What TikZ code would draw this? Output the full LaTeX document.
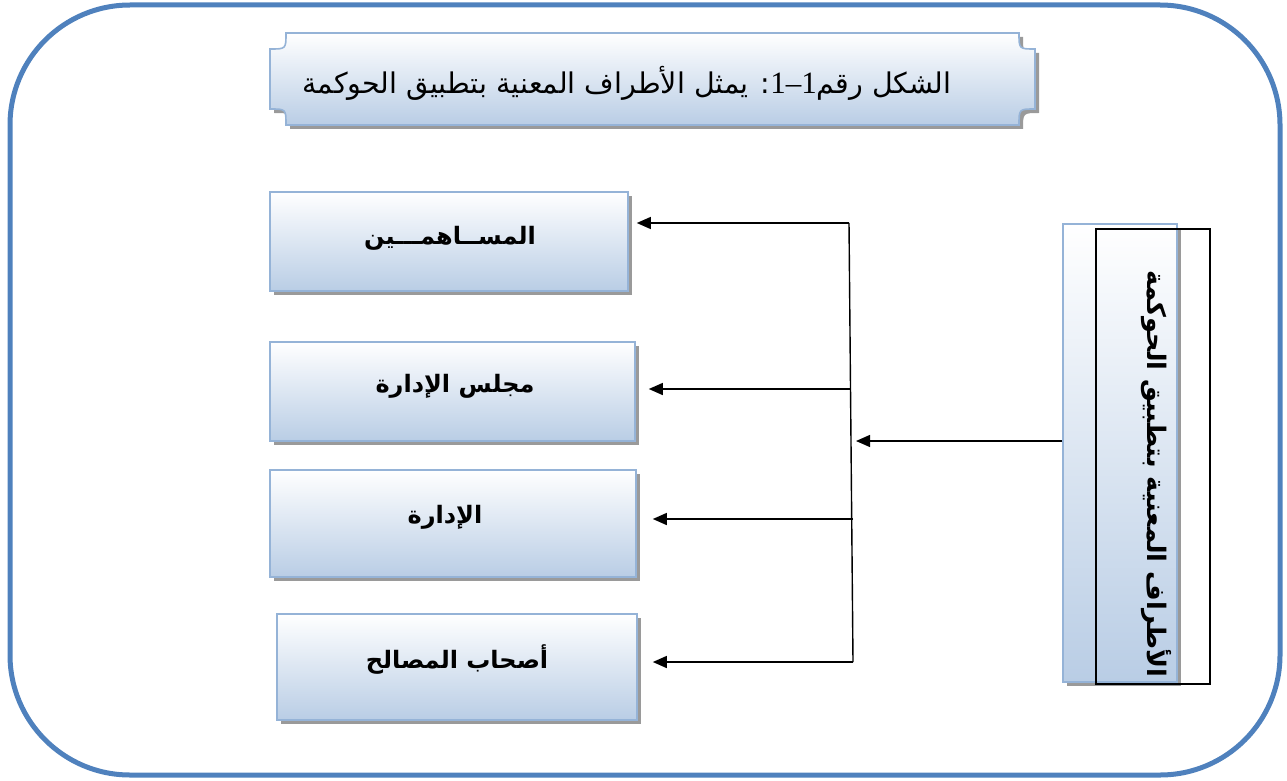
\documentclass[tikz,border=0pt]{standalone}
\usepackage{fontspec}
\newfontfamily\arabicfont[Script=Arabic]{DejaVu Sans}
\newfontfamily\latinserif{Liberation Serif}
\TeXXeTstate=1
\usetikzlibrary{arrows.meta,shadows}
\definecolor{frameblue}{HTML}{4F81BD}
\definecolor{boxborder}{HTML}{95B3D7}
\definecolor{boxbottom}{HTML}{B9CDE5}
\definecolor{shadowgray}{HTML}{9A9A9A}
\begin{document}
\begin{tikzpicture}[x=1pt,y=-1pt,
  entity/.style={draw=boxborder, line width=1.6pt, top color=white, bottom color=boxbottom,
    drop shadow={shadow xshift=4pt,shadow yshift=-4pt,fill=shadowgray,opacity=1},
    inner sep=0pt},
  label/.style={font=\arabicfont\bfseries\fontsize{24}{28}\selectfont, inner sep=0pt},
  arr/.style={line width=1.4pt, -{Triangle[length=14pt,width=12pt]}},
  bus/.style={line width=1.4pt}]
\useasboundingbox (0,0) rectangle (1287,781);
% outer frame
\draw[frameblue, line width=5pt, rounded corners=120pt] (10,5) rectangle (1280,775);
% title plaque
\fill[shadowgray] (290,37) -- (1023,37) .. controls (1023,53) .. (1039,53) -- (1039,113) .. controls (1023,113) .. (1023,129) -- (290,129) .. controls (290,113) .. (274,113) -- (274,53) .. controls (290,53) .. (290,37) -- cycle;
\shade[top color=white, bottom color=boxbottom, draw=boxborder, line width=1.6pt] (286,33) -- (1019,33) .. controls (1019,49) .. (1035,49) -- (1035,109) .. controls (1019,109) .. (1019,125) -- (286,125) .. controls (286,109) .. (270,109) -- (270,49) .. controls (286,49) .. (286,33) -- cycle;
\node[font=\arabicfont\fontsize{28.5}{32}\selectfont, inner sep=0pt] (title) at (627,83)
  {\beginR الشكل رقم\beginL{\latinserif\fontsize{31}{32}\selectfont 1–1}\endL: يمثل الأطراف المعنية بتطبيق الحوكمة\endR};
% boxes
\node[entity, minimum width=358pt, minimum height=99pt] (b1) at (449,241.5) {};
\node[entity, minimum width=365pt, minimum height=99pt] (b2) at (452.5,391.5) {};
\node[entity, minimum width=366pt, minimum height=107pt] (b3) at (453,523.5) {};
\node[entity, minimum width=360pt, minimum height=106pt] (b4) at (457,667) {};
\node[label] (l1) at (450,238) {\beginR المســاهمـــين\endR};
\node[label] (l2) at (455,386) {\beginR مجلس الإدارة\endR};
\node[label] (l3) at (445,517) {\beginR الإدارة\endR};
\node[label] (l4) at (457,660) {\beginR أصحاب المصالح\endR};
% right box
\node[entity, minimum width=114pt, minimum height=458pt] (rb) at (1120,453) {};
\node[draw=black, line width=1.4pt, minimum width=114pt, minimum height=455pt, inner sep=0pt] (rr) at (1153,456.5) {};
\node[font=\arabicfont\bfseries\fontsize{25.5}{28}\selectfont, rotate=-90, inner sep=0pt] (rl) at (1156,474)
  {\beginR الأطراف المعنية بتطبيق الحوكمة\endR};
% bus
\coordinate (t1) at (849,223);
\coordinate (t2) at (850,389);
\coordinate (t3) at (853,519);
\coordinate (t4) at (853,662);
\coordinate (in) at (856,441);
\draw[bus] (t1) -- (t4);
\draw[arr, shorten >=8pt] (t1) -- (t1 -| b1.east);
\draw[arr, shorten >=13pt] (t2) -- (t2 -| b2.east);
\draw[arr, shorten >=16pt] (t3) -- (t3 -| b3.east);
\draw[arr, shorten >=15pt] (t4) -- (t4 -| b4.east);
\draw[arr] (rb.west |- in) -- (in);
\end{tikzpicture}
\end{document}
